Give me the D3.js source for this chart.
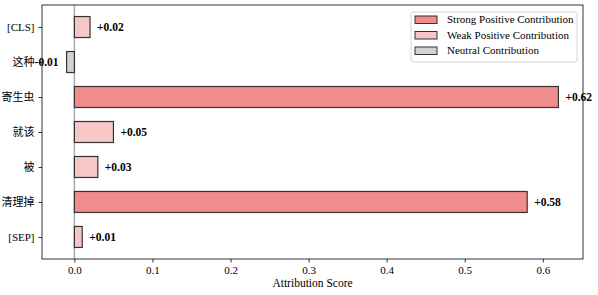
<!DOCTYPE html>
<html>
<head>
<meta charset="utf-8">
<script src="https://cdn.jsdelivr.net/npm/d3@7"></script>
<style>
  body { margin: 0; background: #fff; }
  svg { display: block; }
</style>
</head>
<body>
<div id="chart"></div>
<script>
// tokens and their attribution scores
const tokens = ["[CLS]", "这种", "寄生虫", "就该", "被", "清理掉", "[SEP]"];
const scores = [0.02, -0.01, 0.62, 0.05, 0.03, 0.58, 0.01];
const levels = ["weak", "neutral", "strong", "weak", "weak", "strong", "weak"];
const xTicks = [0.0, 0.1, 0.2, 0.3, 0.4, 0.5, 0.6];

const legendKeys = ["strong", "weak", "neutral"];
const legendNames = ["Strong Positive Contribution", "Weak Positive Contribution", "Neutral Contribution"];

const width = 598, height = 295;
const margin = {top: 5, right: 15, bottom: 36, left: 42};
const serif = "'Liberation Serif', 'DejaVu Serif', serif";
const cjk = "'Liberation Serif', 'Noto Sans CJK SC', serif";

const colors = {strong: "#f08c8c", weak: "#f7c7c7", neutral: "#d2d2d2"};

const svg = d3.select("#chart").append("svg")
    .attr("width", width)
    .attr("height", height);

// matplotlib style 5% padding around the data
const lo = d3.min(scores), hi = d3.max(scores);
const pad = (hi - lo) * 0.05;
const x = d3.scaleLinear()
    .domain([lo - pad, hi + pad])
    .range([margin.left, width - margin.right]);

const n = tokens.length;
const ypad = (n - 1 + 0.6) * 0.05;
const y = d3.scaleLinear()
    .domain([-0.3 - ypad, n - 1 + 0.3 + ypad])
    .range([margin.top, height - margin.bottom]);
const barH = y(0.6) - y(0);

// zero line
svg.append("line")
    .attr("x1", x(0)).attr("x2", x(0))
    .attr("y1", margin.top).attr("y2", height - margin.bottom)
    .attr("stroke", "#aaa")
    .attr("stroke-width", 1.5);

// bars
svg.append("g")
  .selectAll("rect")
  .data(scores)
  .join("rect")
    .attr("x", d => x(Math.min(0, d)))
    .attr("y", (d, i) => y(i) - barH / 2)
    .attr("width", d => Math.abs(x(d) - x(0)))
    .attr("height", barH)
    .attr("fill", (d, i) => colors[levels[i]])
    .attr("stroke", "#333")
    .attr("stroke-width", 1.2);

// value labels
svg.append("g")
  .selectAll("text")
  .data(scores)
  .join("text")
    .attr("x", d => d >= 0 ? x(d) + 7 : x(d) - 8)
    .attr("y", (d, i) => y(i))
    .attr("dy", "0.35em")
    .attr("text-anchor", d => d >= 0 ? "start" : "end")
    .style("font", `bold 11.5px ${serif}`)
    .text(d => (d >= 0 ? "+" : "-") + Math.abs(d).toFixed(2));

// axes
const xAxis = svg.append("g")
    .attr("transform", `translate(0,${height - margin.bottom})`)
    .call(d3.axisBottom(x).tickValues(xTicks).tickFormat(d3.format(".1f")).tickSizeOuter(0).tickSize(3.5).tickPadding(4));
xAxis.selectAll("text").style("font", `11px ${serif}`).attr("fill", "#000");

const yAxis = svg.append("g")
    .attr("transform", `translate(${margin.left},0)`)
    .call(d3.axisLeft(y).tickValues(d3.range(n)).tickFormat(i => tokens[i]).tickSizeOuter(0).tickSize(3.5).tickPadding(4));
yAxis.selectAll("text").style("font", `11px ${cjk}`).attr("fill", "#000");

[xAxis, yAxis].forEach(g => {
  g.select(".domain").remove();
  g.selectAll("line").attr("stroke", "#000").attr("stroke-width", 0.8);
});

// frame
svg.append("rect")
    .attr("x", margin.left).attr("y", margin.top)
    .attr("width", width - margin.left - margin.right)
    .attr("height", height - margin.top - margin.bottom)
    .attr("fill", "none")
    .attr("stroke", "#000")
    .attr("stroke-width", 0.8);

svg.append("text")
    .attr("x", (margin.left + width - margin.right) / 2)
    .attr("y", height - 8)
    .attr("text-anchor", "middle")
    .style("font", `11.5px ${serif}`)
    .text("Attribution Score");

// legend
const lg = svg.append("g").attr("transform", "translate(411,12)");
lg.append("rect")
    .attr("width", 166).attr("height", 50)
    .attr("rx", 2)
    .attr("fill", "#fff")
    .attr("stroke", "#ccc")
    .attr("stroke-width", 0.8);
const item = lg.selectAll("g.item")
  .data(legendKeys)
  .join("g")
    .attr("class", "item")
    .attr("transform", (d, i) => `translate(4,${4 + i * 15.5})`);
item.append("rect")
    .attr("width", 22).attr("height", 7.5)
    .attr("fill", d => colors[d])
    .attr("stroke", "#333")
    .attr("stroke-width", 1);
item.append("text")
    .attr("x", 32).attr("y", 3.5)
    .attr("dy", "0.35em")
    .style("font", `11px ${serif}`)
    .text((d, i) => legendNames[i]);
</script>
</body>
</html>
